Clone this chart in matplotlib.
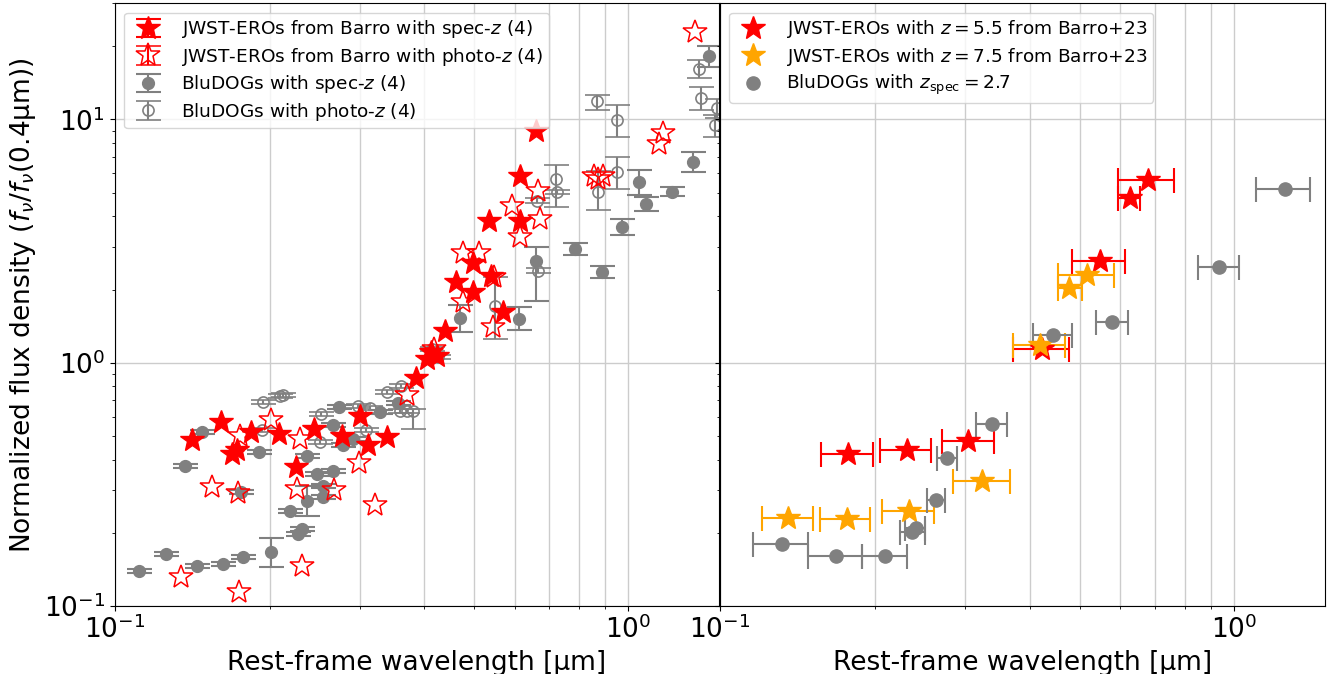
import numpy as np
import matplotlib.pyplot as plt

# ---- left panel: EROs from Barro (rest-frame um, normalized flux)
ero_spec_x = [0.141, 0.161, 0.169, 0.173, 0.184, 0.209, 0.225, 0.244, 0.277, 0.300, 0.311, 0.339, 0.386,
              0.406, 0.413, 0.424, 0.440, 0.462, 0.499, 0.499, 0.541, 0.571, 0.536, 0.616, 0.616, 0.662]
ero_spec_y = [0.482, 0.572, 0.422, 0.438, 0.520, 0.510, 0.373, 0.535, 0.501, 0.605, 0.460, 0.496, 0.868,
              1.039, 1.110, 1.069, 1.354, 2.154, 2.579, 1.960, 2.280, 1.622, 3.840, 3.840, 5.83, 8.93]

ero_phot_x = [0.1345, 0.1745, 0.1546, 0.1737, 0.1753, 0.2014, 0.2294, 0.2264, 0.2673, 0.2315, 0.2989,
              0.3213, 0.3709, 0.4186, 0.4768, 0.5124, 0.4768, 0.5481, 0.5458, 0.5941, 0.6676, 0.6737,
              0.6158, 0.855, 0.874, 0.894, 1.145, 1.165, 1.345]
ero_phot_y = [0.1316, 0.1142, 0.309, 0.2917, 0.501, 0.583, 0.487, 0.303, 0.300, 0.146, 0.388, 0.260,
              0.738, 1.142, 2.836, 2.836, 1.782, 2.259, 1.406, 4.43, 5.10, 3.913, 3.300, 5.83, 5.72,
              5.88, 7.96, 8.76, 23.0]

# ---- left panel: BluDOGs
dog_spec_x = [0.1114, 0.1257, 0.1369, 0.1478, 0.1445, 0.1624, 0.1776, 0.1760, 0.1909, 0.2014, 0.2193,
              0.2274, 0.2315, 0.2367, 0.2367, 0.2476, 0.2544, 0.2544, 0.2661, 0.2661, 0.2733, 0.2783,
              0.2911, 0.3284, 0.3562, 0.4703, 0.6130, 0.6617, 0.7884, 0.8900, 0.9734, 1.046, 1.084,
              1.218, 1.333, 1.432]
dog_spec_y = [0.1393, 0.1637, 0.377, 0.520, 0.146, 0.1489, 0.1591, 0.2945, 0.430, 0.1668, 0.246,
              0.1978, 0.2074, 0.4143, 0.2704, 0.3493, 0.3118, 0.2809, 0.3593, 0.5556, 0.659, 0.4598,
              0.4867, 0.6286, 0.6844, 1.532, 1.517, 2.630, 2.945, 2.369, 3.628, 5.557, 4.512, 5.054,
              6.718, 18.17]
dog_spec_elo = [0.003, 0.003, 0.008, 0.01, 0.003, 0.003, 0.003, 0.006, 0.008, 0.022, 0.005, 0.004,
                0.004, 0.008, 0.036, 0.007, 0.006, 0.006, 0.007, 0.011, 0.013, 0.009, 0.01, 0.012,
                0.014, 0.19, 0.16, 0.83, 0.16, 0.13, 0.28, 0.65, 0.3, 0.2, 0.65, 1.8]
dog_spec_ehi = [0.003, 0.003, 0.008, 0.01, 0.003, 0.003, 0.003, 0.006, 0.008, 0.024, 0.005, 0.004,
                0.004, 0.008, 0.042, 0.007, 0.006, 0.006, 0.007, 0.011, 0.013, 0.009, 0.01, 0.012,
                0.014, 0.19, 0.17, 0.37, 0.16, 0.13, 0.28, 0.65, 0.3, 0.2, 0.65, 1.8]

dog_phot_x = [0.1934, 0.1943, 0.2097, 0.2126, 0.2521, 0.2509, 0.2976, 0.3140, 0.3084, 0.3390, 0.3610,
              0.3593, 0.3709, 0.3810, 0.4149, 0.4263, 0.5506, 0.6676, 0.6647, 0.7237, 0.7270, 0.874,
              0.870, 0.952, 0.952, 1.375, 1.382, 1.485, 1.472]
dog_phot_y = [0.530, 0.691, 0.7315, 0.738, 0.6167, 0.473, 0.6653, 0.653, 0.530, 0.760, 0.804, 0.6345,
              0.6345, 0.6345, 1.142, 1.058, 1.717, 2.391, 4.642, 5.72, 5.054, 5.054, 11.86, 9.91, 6.11,
              16.06, 12.20, 11.10, 9.45]
dog_phot_elo = [0.01, 0.013, 0.014, 0.014, 0.012, 0.009, 0.013, 0.013, 0.01, 0.015, 0.016, 0.012,
                0.012, 0.1, 0.02, 0.02, 0.46, 0.05, 0.1, 1.34, 0.1, 0.79, 0.97, 1.4, 0.91, 1.31, 1.31,
                1.0, 1.0]
dog_phot_ehi = [0.01, 0.013, 0.014, 0.014, 0.012, 0.009, 0.013, 0.013, 0.01, 0.015, 0.016, 0.012,
                0.012, 0.012, 0.02, 0.02, 0.54, 0.05, 0.1, 0.81, 0.1, 1.06, 0.70, 1.51, 0.93, 1.43, 1.34,
                1.0, 1.0]

# ---- right panel: binned seds, x errorbar ends given as lo/hi wavelengths
z55_x = [0.678, 0.626, 0.548, 0.422, 0.304, 0.2307, 0.1772]
z55_y = [5.66, 4.76, 2.62, 1.14, 0.476, 0.436, 0.422]
z55_xlo = [0.593, 0.593, 0.484, 0.371, 0.2696, 0.205, 0.1575]
z55_xhi = [0.764, 0.654, 0.612, 0.477, 0.3416, 0.2567, 0.198]

z75_x = [0.517, 0.477, 0.4195, 0.3236, 0.2333, 0.1762, 0.1355]
z75_y = [2.29, 2.02, 1.18, 0.326, 0.245, 0.228, 0.2296]
z75_xlo = [0.454, 0.454, 0.371, 0.284, 0.2065, 0.1567, 0.1205]
z75_xhi = [0.583, 0.505, 0.469, 0.366, 0.261, 0.196, 0.1514]

dog27_x = [1.252, 0.934, 0.579, 0.4436, 0.338, 0.2758, 0.263, 0.2404, 0.2366, 0.2094, 0.1684, 0.1318]
dog27_y = [5.2, 2.47, 1.47, 1.296, 0.559, 0.406, 0.272, 0.209, 0.202, 0.161, 0.160, 0.1794]
dog27_xlo = [1.103, 0.851, 0.539, 0.4055, 0.315, 0.2639, 0.2526, 0.229, 0.2242, 0.1888, 0.1483, 0.1157]
dog27_xhi = [1.40, 1.021, 0.621, 0.483, 0.361, 0.2884, 0.2744, 0.2508, 0.2499, 0.231, 0.1888, 0.148]


def xerr_from(x, lo, hi):  # asymmetric x errors from the bar ends
    x = np.array(x)
    return [x - np.array(lo), np.array(hi) - x]


fig = plt.figure(figsize=(13.35, 6.74), dpi=100)
ax1 = fig.add_axes([0.0861, 0.1009, 0.4524, 0.894])
ax2 = fig.add_axes([0.5393, 0.1009, 0.4532, 0.894], sharey=ax1)

eb = dict(capsize=9, elinewidth=1.5, capthick=1.5)
leg = dict(loc='upper left', fontsize=13.3, labelspacing=0.3, borderpad=0.3)

# left panel
ax1.errorbar(dog_spec_x, dog_spec_y, yerr=[dog_spec_elo, dog_spec_ehi], fmt='o', color='grey', ms=8.5,
             label='BluDOGs with spec-$z$ (4)', **eb)
ax1.errorbar(dog_phot_x, dog_phot_y, yerr=[dog_phot_elo, dog_phot_ehi], fmt='o', color='grey', mfc='none',
             ms=8, mew=1.2, label='BluDOGs with photo-$z$ (4)', **eb)
nan_s = np.full(len(ero_spec_x), np.nan)  # no flux errors for the EROs
nan_p = np.full(len(ero_phot_x), np.nan)
ax1.errorbar(ero_spec_x, ero_spec_y, yerr=nan_s, fmt='*', color='red', ms=18,
             label='JWST-EROs from Barro with spec-$z$ (4)', **eb)
ax1.errorbar(ero_phot_x, ero_phot_y, yerr=nan_p, fmt='*', color='red', mfc='none', ms=18, mew=1.1,
             label='JWST-EROs from Barro with photo-$z$ (4)', **eb)

h, l = ax1.get_legend_handles_labels()
ax1.legend([h[2], h[3], h[0], h[1]], [l[2], l[3], l[0], l[1]], **leg)

# right panel
ax2.errorbar(z55_x, z55_y, xerr=xerr_from(z55_x, z55_xlo, z55_xhi), fmt='none', ecolor='red', **eb)
ax2.errorbar(z75_x, z75_y, xerr=xerr_from(z75_x, z75_xlo, z75_xhi), fmt='none', ecolor='orange', **eb)
ax2.errorbar(dog27_x, dog27_y, xerr=xerr_from(dog27_x, dog27_xlo, dog27_xhi), fmt='none', ecolor='grey', **eb)
ax2.plot(z55_x, z55_y, '*', color='red', ms=18, label='JWST-EROs with $z=5.5$ from Barro+23', zorder=3)
ax2.plot(z75_x, z75_y, '*', color='orange', ms=18, label='JWST-EROs with $z=7.5$ from Barro+23', zorder=3)
ax2.plot(dog27_x, dog27_y, 'o', color='grey', ms=9.5, label=r'BluDOGs with $z_{\rm spec}=2.7$', zorder=3)
ax2.legend(**leg)

for ax in (ax1, ax2):
    ax.set_xscale('log')
    ax.set_yscale('log')
    ax.set_xlim(0.1, 1.5)
    ax.set_ylim(0.1, 30)
    ax.grid(True, which='both', axis='x', color='0.8', lw=1)
    ax.grid(True, which='major', axis='y', color='0.8', lw=1)
    ax.set_axisbelow(True)
    ax.tick_params(labelsize=19)
    ax.set_xlabel('Rest-frame wavelength [μm]', fontsize=19)

ax2.tick_params(labelleft=False)
ax1.set_ylabel(r'Normalized flux density ($f_{\nu}/f_{\nu}$(0.4μm))', fontsize=19)

plt.savefig('out.png', dpi=100)
